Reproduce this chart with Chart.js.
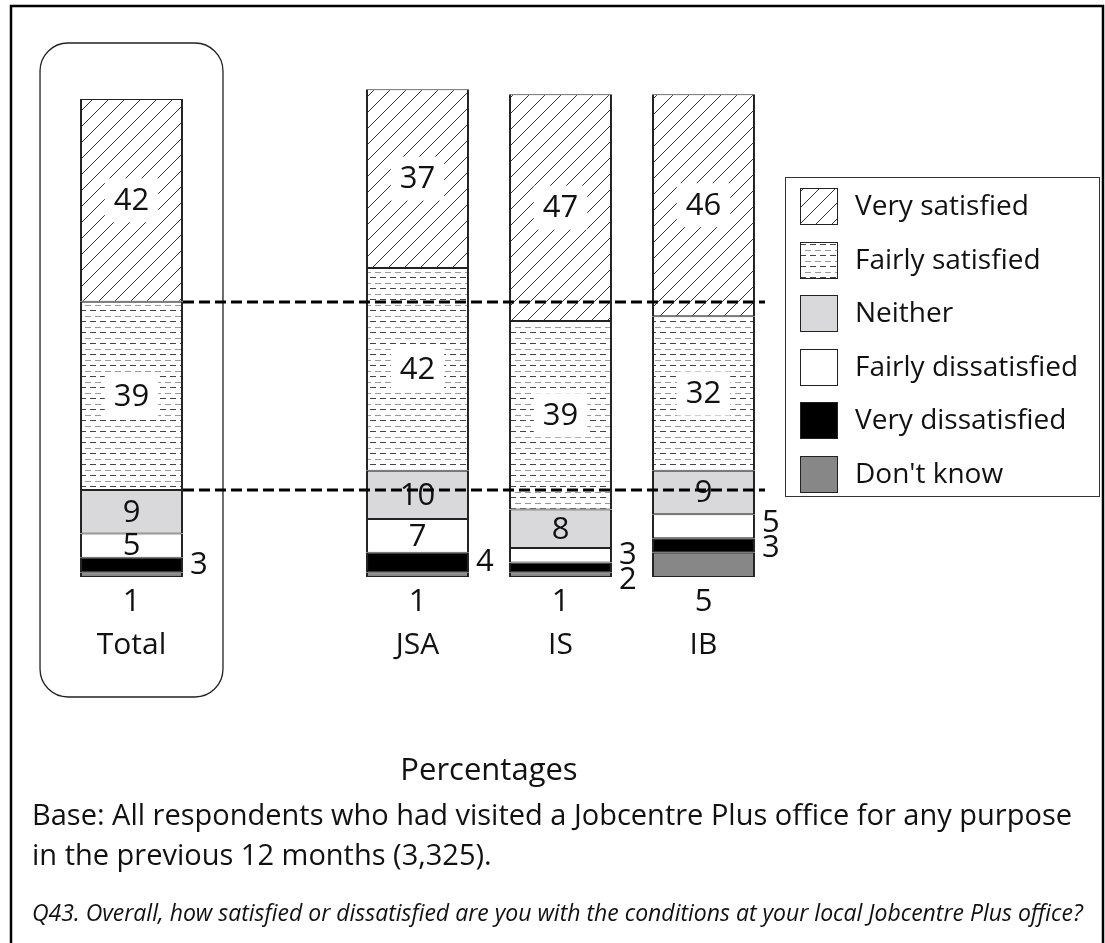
<!DOCTYPE html>
<html>
<head>
<meta charset="utf-8">
<script src="https://cdn.jsdelivr.net/npm/chart.js@4.4.1/dist/chart.umd.min.js"></script>
<style>
  html, body { margin: 0; padding: 0; background: #fff; }
  canvas { display: block; }
</style>
</head>
<body>
<canvas id="satisfactionChart" width="1105" height="943"></canvas>
<script>
// categories (the empty one is the gap after Total)
const categories = ['Total', '', 'JSA', 'IS', 'IB'];

// series, bottom of the stack first
const dontKnow        = [1,  null, 1,  1,  5];
const veryDissatisfied = [3,  null, 4,  2,  3];
const fairlyDissatisfied = [5, null, 7,  3,  5];
const neither         = [9,  null, 10, 8,  9];
const fairlySatisfied = [39, null, 42, 39, 32];
const verySatisfied   = [42, null, 37, 47, 46];

const seriesNames = ["Don't know", 'Very dissatisfied', 'Fairly dissatisfied', 'Neither', 'Fairly satisfied', 'Very satisfied'];

const baseText1 = 'Base: All respondents who had visited a Jobcentre Plus office for any purpose';
const baseText2 = 'in the previous 12 months (3,325).';
const questionText = 'Q43. Overall, how satisfied or dissatisfied are you with the conditions at your local Jobcentre Plus office?';

// where the value label of a segment goes (default: inside)
const labelSpots = {
  "Don't know": 'below',
  'Very dissatisfied': 'right',
  'Fairly dissatisfied': ['in', null, 'in', 'right', 'right']
};
// small vertical nudges so the outside labels don't collide  [series][category]
const labelNudge = { 'Very dissatisfied': { 3: 13, 4: 3 }, 'Fairly dissatisfied': { 4: -3 } };

const FONT = '"Open Sans", "Noto Sans", sans-serif';
const INK = '#111';

// --- fill patterns ---
function hatchPattern() {
  const c = document.createElement('canvas');
  c.width = 16; c.height = 16;
  const g = c.getContext('2d');
  g.fillStyle = '#fff';
  g.fillRect(0, 0, 16, 16);
  g.strokeStyle = '#333';
  g.lineWidth = 1;
  g.beginPath();
  g.moveTo(-1, 17); g.lineTo(17, -1);
  g.moveTo(-1, 1); g.lineTo(1, -1);
  g.moveTo(15, 17); g.lineTo(17, 15);
  g.stroke();
  return g.createPattern(c, 'repeat');
}

function dashPattern() {
  const c = document.createElement('canvas');
  c.width = 10; c.height = 11;
  const g = c.getContext('2d');
  g.fillStyle = '#fff';
  g.fillRect(0, 0, 10, 11);
  g.fillStyle = '#444';
  g.fillRect(0, 2, 6, 1);
  g.fillStyle = '#999';
  g.fillRect(5, 8, 6, 1);
  g.fillRect(0, 8, 1, 1);
  return g.createPattern(c, 'repeat');
}

const fills = {
  "Don't know": '#878787',
  'Very dissatisfied': '#000000',
  'Fairly dissatisfied': '#ffffff',
  'Neither': '#d9d9db',
  'Fairly satisfied': dashPattern(),
  'Very satisfied': hatchPattern()
};

const seriesData = [dontKnow, veryDissatisfied, fairlyDissatisfied, neither, fairlySatisfied, verySatisfied];

const datasets = seriesNames.map((name, i) => ({
  label: name,
  data: seriesData[i],
  backgroundColor: fills[name],
  borderColor: '#222',
  borderWidth: { top: 1, bottom: 1, left: 2, right: 2 },
  borderSkipped: false,
  barPercentage: 0.72,
  categoryPercentage: 1
}));

function spotFor(name, j) {
  const s = labelSpots[name];
  if (!s) return 'in';
  return Array.isArray(s) ? s[j] : s;
}

const decorations = {
  id: 'decorations',
  afterDraw(chart) {
    const ctx = chart.ctx;
    const yScale = chart.scales.y;
    const base = yScale.getPixelForValue(0);
    ctx.save();

    // outer frame
    ctx.strokeStyle = '#000';
    ctx.lineWidth = 2.5;
    ctx.beginPath();
    ctx.moveTo(11, 960); ctx.lineTo(11, 6); ctx.lineTo(1103, 6); ctx.lineTo(1103, 960);
    ctx.stroke();

    // rounded box round the Total bar
    const tBar = chart.getDatasetMeta(0).data[0];
    const bx = tBar.x - tBar.width / 2 - 40, bw = tBar.width + 80;
    ctx.lineWidth = 1.3;
    ctx.strokeStyle = '#222';
    ctx.beginPath();
    ctx.roundRect(bx, 43, bw, base + 120 - 43, 28);
    ctx.stroke();

    // value labels
    ctx.font = '31px ' + FONT;
    ctx.fillStyle = INK;
    ctx.textBaseline = 'middle';
    chart.data.datasets.forEach((ds, i) => {
      const meta = chart.getDatasetMeta(i);
      meta.data.forEach((bar, j) => {
        const v = ds.data[j];
        if (v == null) return;
        const spot = spotFor(ds.label, j);
        const nudge = (labelNudge[ds.label] || {})[j] || 0;
        const txt = String(v);
        if (spot === 'below') {
          ctx.textAlign = 'center';
          ctx.fillText(txt, bar.x, base + 25);
        } else if (spot === 'right') {
          ctx.textAlign = 'left';
          ctx.fillText(txt, bar.x + bar.width / 2 + 7, (bar.y + bar.base) / 2 + nudge);
        } else {
          const cy = (bar.y + bar.base) / 2;
          if (ds.label === 'Very satisfied' || ds.label === 'Fairly satisfied') {
            const w = ctx.measureText(txt).width + 18;
            ctx.fillStyle = '#fff';
            ctx.fillRect(bar.x - w / 2, cy - 22, w, 44);
            ctx.fillStyle = INK;
          }
          ctx.textAlign = 'center';
          ctx.fillText(txt, bar.x, cy + 1);
        }
      });
    });

    // category names under the bars
    ctx.font = '30px ' + FONT;
    ctx.textAlign = 'center';
    chart.data.labels.forEach((lab, j) => {
      if (!lab) return;
      ctx.fillText(lab, chart.scales.x.getPixelForValue(j), base + 68);
    });

    // dashed reference lines from the Total bar
    const sums = [];
    let run = 0;
    chart.data.datasets.forEach(ds => { run += ds.data[0]; sums.push(run); });
    const xFrom = tBar.x + tBar.width / 2;
    ctx.strokeStyle = '#000';
    ctx.lineWidth = 3;
    ctx.setLineDash([11, 5]);
    [sums[3], sums[4]].forEach(s => {
      const yy = Math.round(yScale.getPixelForValue(s));
      ctx.beginPath();
      ctx.moveTo(xFrom, yy);
      ctx.lineTo(765, yy);
      ctx.stroke();
    });
    ctx.setLineDash([]);

    // legend
    ctx.lineWidth = 1;
    ctx.strokeStyle = '#333';
    ctx.strokeRect(785.5, 177.5, 314, 319);
    ctx.font = '28px ' + FONT;
    ctx.textAlign = 'left';
    const order = chart.data.datasets.slice().reverse();
    order.forEach((ds, k) => {
      const cy = 207 + k * 53.6;
      ctx.fillStyle = ds.backgroundColor;
      ctx.fillRect(800, Math.round(cy - 19), 38, 37);
      ctx.strokeStyle = '#222';
      ctx.strokeRect(800.5, Math.round(cy - 19) + 0.5, 37, 36);
      ctx.fillStyle = INK;
      ctx.fillText(ds.label, 855, cy);
    });

    // footer texts
    ctx.font = '31px ' + FONT;
    ctx.textAlign = 'center';
    ctx.fillText('Percentages', 489, 771);
    ctx.font = '29px ' + FONT;
    ctx.textAlign = 'left';
    ctx.fillText(baseText1, 32, 817);
    ctx.fillText(baseText2, 32, 857);
    ctx.font = 'italic 23px ' + FONT;
    ctx.fillText(questionText, 32, 914);

    ctx.restore();
  }
};

new Chart(document.getElementById('satisfactionChart'), {
  type: 'bar',
  data: { labels: categories, datasets: datasets },
  options: {
    responsive: false,
    animation: false,
    layout: { padding: { left: 60, right: 330, top: 70, bottom: 366 } },
    scales: {
      x: { stacked: true, display: false },
      y: { stacked: true, display: false, min: 0, max: 105 }
    },
    plugins: { legend: { display: false }, tooltip: { enabled: false } }
  },
  plugins: [decorations]
});
</script>
</body>
</html>
